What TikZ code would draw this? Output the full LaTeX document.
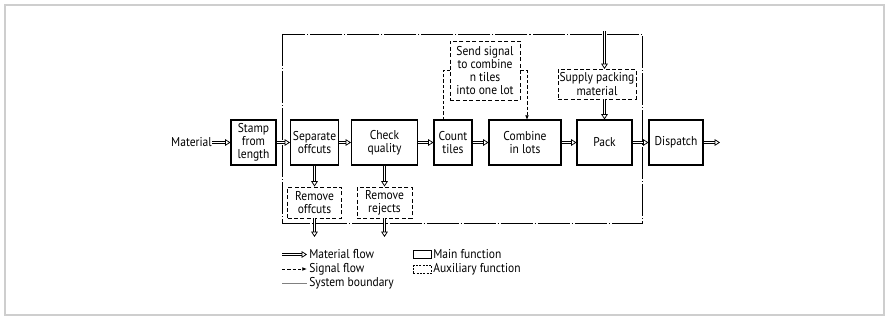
\documentclass[tikz,border=0pt]{standalone}
\usepackage{fontspec}
\setmainfont{PT Sans}[FakeStretch=0.9]
\usetikzlibrary{arrows.meta,calc}
\definecolor{framegray}{RGB}{206,206,206}
\tikzset{
  every node/.style={font=\fontsize{9.6}{9.9}\selectfont, inner sep=0pt, align=center},
  mainbox/.style={draw, line width=0.8pt, minimum height=33.75pt},
  auxbox/.style={draw, line width=0.7pt, dash pattern=on 3pt off 1.8pt},
  mshaft/.style={draw, line width=0.55pt, double=white, double distance=1.1pt, shorten >=3.6pt},
  mtip/.style={line width=0.55pt, -{Triangle[open, fill=white, length=4pt, width=5pt]}},
  sigline/.style={draw, line width=0.6pt, dash pattern=on 2.5pt off 1.5pt},
  sigarrow/.style={sigline, -{Latex[length=3.5pt, width=2.8pt]}},
  boundary/.style={draw, line width=0.55pt, dash pattern=on 24pt off 1.5pt on 0.8pt off 1.5pt},
  lbl/.style={anchor=west}
}
\newcommand\mflow[2]{%
  \draw[mshaft] #1 -- #2;
  \draw[mtip] ($#2!4pt!#1$) -- #2;}
\begin{document}
\begin{tikzpicture}[x=0.75pt,y=-0.75pt]
\useasboundingbox (0,0) rectangle (889,320);
\draw[framegray, line width=1.6pt] (5,5) rectangle (884,315);

% system boundary
\draw[boundary] (282,34) rectangle (642,223);

% main functions
\node[anchor=east] (material) at (212,142.5) {Material};
\node[mainbox, minimum width=33.75pt] (stamp) at (253.5,142.5) {Stamp\\from\\length};
\node[mainbox, minimum width=36pt] (sep) at (314.5,142.5) {Separate\\offcuts};
\node[mainbox, minimum width=49.5pt] (check) at (384.5,142.5) {Check\\quality};
\node[mainbox, minimum width=28.5pt] (count) at (453,142.5) {Count\\tiles};
\node[mainbox, minimum width=54pt] (combine) at (525,142.5) {Combine\\in lots};
\node[mainbox, minimum width=41.25pt] (pack) at (604.5,142.5) {Pack};
\node[mainbox, minimum width=40.5pt] (dispatch) at (676,142.5) {Dispatch};

% auxiliary functions
\node[auxbox, minimum width=52.5pt, minimum height=44.25pt] (send) at (485,70.5) {Send signal\\to combine\\n tiles\\into one lot};
\node[auxbox, minimum width=58.5pt, minimum height=22.5pt] (supply) at (597,84) {Supply packing\\material};
\node[auxbox, minimum width=40.5pt, minimum height=23.25pt] (roff) at (314.5,202.5) {Remove\\offcuts};
\node[auxbox, minimum width=41.25pt, minimum height=23.25pt] (rrej) at (384.5,202.5) {Remove\\rejects};

% helper coordinates
\coordinate (out) at (720,142.5);
\coordinate (roffout) at (314.5,237);
\coordinate (rrejout) at (384.5,237);
\coordinate (suptop) at (604.5,31);
\coordinate (supin) at (604.5,69);
\coordinate (supout) at (604.5,99);
\coordinate (cst) at (443,120);
\coordinate (cmbin) at (527,120);

% material flow
\mflow{(material.east)}{(stamp.west)}
\mflow{(stamp.east)}{(sep.west)}
\mflow{(sep.east)}{(check.west)}
\mflow{(check.east)}{(count.west)}
\mflow{(count.east)}{(combine.west)}
\mflow{(combine.east)}{(pack.west)}
\mflow{(pack.east)}{(dispatch.west)}
\mflow{(dispatch.east)}{(out)}
\mflow{(sep.south)}{(roff.north)}
\mflow{(check.south)}{(rrej.north)}
\mflow{(roff.south)}{(roffout)}
\mflow{(rrej.south)}{(rrejout)}
\mflow{(suptop)}{(supin)}
\mflow{(supout)}{(pack.north)}

% signal flow
\draw[sigline] (cst) |- (send.west);
\draw[sigarrow] (send.east) -| (cmbin);

% legend
\node[lbl] (tm) at (309,254.5) {Material flow};
\node[lbl] (ts) at (309,269) {Signal flow};
\node[lbl] (tb) at (309,283) {System boundary};
\coordinate (legmA) at (282,254.5);
\coordinate (legmB) at (307,254.5);
\coordinate (legsA) at (282,269);
\coordinate (legsB) at (307,269);
\coordinate (legbA) at (282,283);
\coordinate (legbB) at (307,283);
\mflow{(legmA)}{(legmB)}
\draw[sigarrow] (legsA) -- (legsB);
\draw[line width=0.5pt, gray] (legbA) -- (legbB);
\node[draw, line width=0.7pt, minimum width=14pt, minimum height=5.5pt] (lmain) at (422.5,254.5) {};
\node[auxbox, line width=0.6pt, dash pattern=on 1.5pt off 1pt, minimum width=14pt, minimum height=5.5pt] (laux) at (422.5,269.5) {};
\node[lbl] (tmain) at (433,254.5) {Main function};
\node[lbl] (taux) at (433,269.5) {Auxiliary function};
\end{tikzpicture}
\end{document}
